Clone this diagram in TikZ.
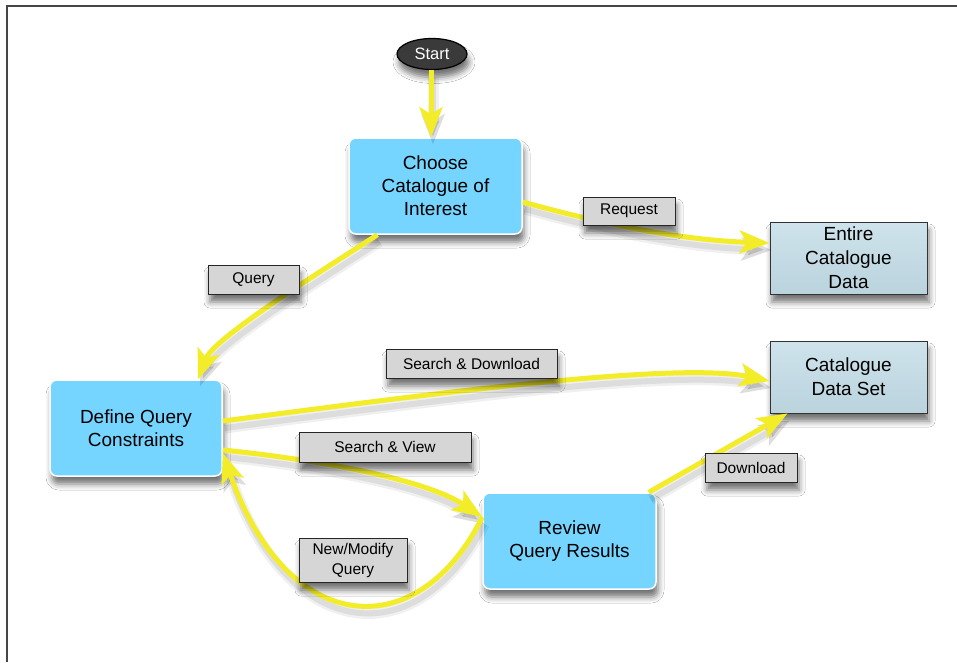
\documentclass[tikz,border=0pt]{standalone}
\usepackage{fontspec}
\setmainfont{Liberation Sans}
\usetikzlibrary{arrows.meta,shadows.blur,shapes.geometric,calc}
\definecolor{qblue}{RGB}{117,213,255}
\definecolor{dblue}{RGB}{186,211,221}
\definecolor{dbluetop}{RGB}{206,227,236}
\definecolor{lgray}{RGB}{214,214,214}
\definecolor{flow}{RGB}{243,236,40}
\definecolor{startfill}{RGB}{58,58,58}
\definecolor{framecol}{RGB}{70,70,70}
\begin{document}
\begin{tikzpicture}[x=1pt,y=-1pt,
 shad/.style={blur shadow={shadow xshift=2pt, shadow yshift=-8pt, shadow blur radius=6pt, shadow opacity=55}},
 mainbox/.style={shad, rectangle, rounded corners=7pt, fill=qblue, draw=white, line width=1.5pt, minimum width=173pt, minimum height=96pt, align=center, font=\fontsize{19}{23}\selectfont, inner sep=0pt},
 databox/.style={shad, rectangle, top color=dbluetop, bottom color=dblue, draw=black!80, line width=0.8pt, minimum width=157pt, minimum height=72pt, align=center, font=\fontsize{19}{24}\selectfont, inner sep=0pt},
 lab/.style={shad, rectangle, fill=lgray, draw=black!85, line width=0.9pt, align=center, font=\fontsize{15.5}{20}\selectfont, inner sep=0pt},
 startnode/.style={shad, ellipse, fill=startfill, draw=black, line width=1.2pt, minimum width=70pt, minimum height=31pt, inner sep=0pt, text=white, font=\fontsize{16.5}{19}\selectfont},
 flowline/.style={draw=flow, line width=5pt, -{Stealth[length=30pt,width=23pt,inset=7pt]},
   preaction={draw=black, opacity=0.06, line width=11pt, transform canvas={xshift=2pt,yshift=-7pt}},
   preaction={draw=black, opacity=0.08, line width=6pt, transform canvas={xshift=2pt,yshift=-7pt}}}
]
\useasboundingbox (0,0) rectangle (957,662);
\fill[white] (0,0) rectangle (957,662);
\draw[framecol, line width=1.3pt] (7,662) -- (7,6) -- (957,6);

\node[startnode] (start) at (432,54) {Start};
\node[mainbox] (choose) at (435.5,186) {Choose\\Catalogue of\\Interest};
\node[mainbox, minimum width=172pt] (define) at (136,428) {Define Query\\Constraints};
\node[mainbox] (review) at (569.5,541) {Review\\Query Results};
\node[databox] (entire) at (848.5,258) {Entire\\Catalogue\\Data};
\node[databox] (dataset) at (848.5,377) {Catalogue\\Data Set};

\draw[flowline] ([xshift=-1pt]start.south) -- ([xshift=-1pt]start.south |- choose.north);
\draw[flowline] ([yshift=-16pt]choose.east) .. controls +(80,22) and +(-90,-3) .. ([yshift=15pt]entire.west);
\draw[flowline] ([xshift=-58pt]choose.south) .. controls +(-70,45) and +(15,-40) .. ([xshift=62pt]define.north);
\draw[flowline] ([yshift=7pt]define.east) .. controls +(200,-26) and +(-95,-20) .. ([yshift=-4pt]dataset.west);
\draw[flowline] ([yshift=-22pt]define.east) .. controls +(80,8) and +(-60,-40) .. ([yshift=24pt]review.west);
\draw[flowline] ([yshift=24pt]review.west) .. controls +(-63,128) and +(65,187) .. ([yshift=-25pt]define.east);
\draw[flowline] ([xshift=-8pt]review.north east) -- ([xshift=-61pt]dataset.south);

\node[lab, minimum width=92pt, minimum height=28pt] (lreq) at (629,211) {Request};
\node[lab, minimum width=91pt, minimum height=29pt] (lquery) at (253.5,279.5) {Query};
\node[lab, minimum width=171pt, minimum height=29pt] (lsd) at (471.5,363.5) {Search \& Download};
\node[lab, minimum width=172pt, minimum height=30pt] (lsv) at (385,447) {Search \& View};
\node[lab, minimum width=108pt, minimum height=44pt] (lnm) at (353,560) {New/Modify\\Query};
\node[lab, minimum width=92pt, minimum height=29pt] (ldl) at (751,467.5) {Download};
\end{tikzpicture}
\end{document}
